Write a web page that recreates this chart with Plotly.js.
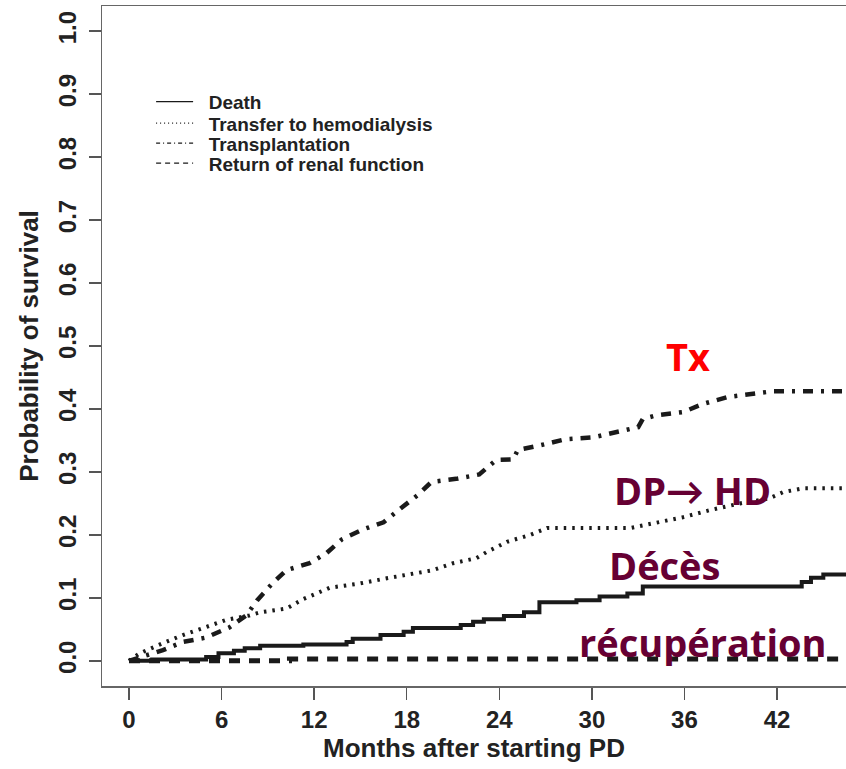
<!DOCTYPE html>
<html>
<head>
<meta charset="utf-8">
<script src="https://cdn.plot.ly/plotly-3.0.1.min.js"></script>
<style>html,body{margin:0;padding:0;background:#fff;}#chart{width:846px;height:769px;}</style>
</head>
<body>
<div id="chart"></div>
<script>
// Months after starting PD / cumulative probability
const deathMonths = [0, 1.5, 5.0, 5.8, 6.8, 7.5, 8.5, 11.3, 14.1, 14.5, 16.3, 17.8, 18.4, 21.5, 22.3, 23.0, 24.3, 25.6, 26.6, 29.0, 30.5, 32.3, 33.3, 43.6, 44.2, 45.0, 46.5];
const deathProb   = [0, 0.002, 0.006, 0.012, 0.016, 0.020, 0.024, 0.026, 0.030, 0.035, 0.041, 0.046, 0.052, 0.057, 0.062, 0.066, 0.071, 0.077, 0.093, 0.096, 0.102, 0.107, 0.118, 0.125, 0.132, 0.137, 0.137];

const hdMonths = [0, 0.7, 2.2, 3.5, 4.8, 6.3, 7.8, 8.5, 10.2, 11.3, 13.0, 15.0, 16.7, 18.4, 19.7, 21.0, 22.5, 23.2, 24.5, 26.0, 27.1, 32.5, 34.2, 35.9, 37.6, 39.6, 41.5, 42.4, 43.7, 46.5];
const hdProb   = [0, 0.012, 0.028, 0.041, 0.052, 0.065, 0.072, 0.077, 0.083, 0.098, 0.116, 0.123, 0.131, 0.139, 0.144, 0.155, 0.163, 0.173, 0.189, 0.200, 0.211, 0.211, 0.220, 0.228, 0.239, 0.250, 0.258, 0.268, 0.274, 0.274];

const txMonths = [0, 1.0, 2.2, 3.5, 5.0, 6.5, 7.6, 8.3, 9.3, 10.2, 11.7, 12.8, 13.8, 15.2, 16.5, 17.6, 18.7, 19.6, 21.2, 22.7, 23.8, 24.9, 25.2, 26.6, 28.3, 30.1, 31.5, 33.0, 33.3, 34.2, 35.9, 37.2, 38.8, 40.4, 41.7, 43.7, 46.5];
const txProb   = [0, 0.008, 0.017, 0.030, 0.037, 0.053, 0.072, 0.096, 0.123, 0.144, 0.155, 0.171, 0.193, 0.209, 0.220, 0.242, 0.263, 0.284, 0.289, 0.296, 0.319, 0.320, 0.335, 0.342, 0.352, 0.355, 0.363, 0.371, 0.384, 0.390, 0.395, 0.408, 0.419, 0.424, 0.428, 0.428, 0.428];

const renalMonths = [0, 10.4, 46.5];
const renalProb   = [0, 0.003, 0.003];

const xTicks = [0, 6, 12, 18, 24, 30, 36, 42];
const yTicks = [0, 0.1, 0.2, 0.3, 0.4, 0.5, 0.6, 0.7, 0.8, 0.9, 1.0];
const yTickText = ['0.0','0.1','0.2','0.3','0.4','0.5','0.6','0.7','0.8','0.9','1.0'];

const legendNames = ['Death', 'Transfer to hemodialysis', 'Transplantation', 'Return of renal function'];

const labelTexts = ['Tx', 'DP\u2192 HD', 'Décès', 'récupération'];
const labelX = [36.2, 36.5, 34.7, 37.2];
const labelY = [0.484, 0.272, 0.152, 0.030];
const labelColors = ['#ff0000', '#660033', '#660033', '#660033'];

const ink = '#1a1a1a';
const legendIds = ['legend', 'legend2', 'legend3', 'legend4'];
const legendDash = ['solid', '1px,3px', '4px,3px,1px,3px', '5px,4px'];
const legendRowY = [0.8593, 0.8275, 0.7981, 0.7687];

const traces = [
  {x: deathMonths, y: deathProb, mode: 'lines', line: {color: ink, width: 4, shape: 'hv'}, showlegend: false, hoverinfo: 'skip'},
  {x: hdMonths, y: hdProb, mode: 'lines', line: {color: ink, width: 4, dash: '2.5px,6px'}, showlegend: false, hoverinfo: 'skip'},
  {x: txMonths, y: txProb, mode: 'lines', line: {color: ink, width: 4.5, dash: '10px,8px,3px,8px'}, showlegend: false, hoverinfo: 'skip'},
  {x: renalMonths, y: renalProb, mode: 'lines', line: {color: ink, width: 5, shape: 'hv', dash: '11px,9px'}, showlegend: false, hoverinfo: 'skip'}
];
legendNames.forEach((n, i) => {
  traces.push({x: [null], y: [null], mode: 'lines', name: '\u00a0\u00a0' + n, legend: legendIds[i],
    showlegend: true, line: {color: ink, width: 1.2, dash: legendDash[i]}});
});

const annotations = labelTexts.map((t, i) => ({
  x: labelX[i], y: labelY[i], xref: 'x', yref: 'y', text: t, showarrow: false,
  xanchor: 'center', yanchor: 'middle',
  font: {family: '"Open Sans", Lato, sans-serif', size: 38, color: labelColors[i], weight: 'bold'}
}));

const layout = {
  width: 846, height: 769,
  margin: {l: 102, r: 0, t: 6, b: 83},
  paper_bgcolor: '#ffffff', plot_bgcolor: '#ffffff',
  font: {family: '"Liberation Sans", Arial, sans-serif', color: '#222222'},
  xaxis: {
    range: [-1.75, 46.47], tickvals: xTicks, ticktext: xTicks.map(String),
    showgrid: false, zeroline: false, showline: true, mirror: true, linecolor: '#666666', linewidth: 1.5,
    ticks: 'outside', ticklen: 12, tickwidth: 1.5, tickcolor: '#555555',
    tickfont: {size: 24, weight: 'bold', color: '#222222'},
    title: {text: 'Months after starting PD', font: {size: 26, weight: 'bold', color: '#222222'}, standoff: 6}
  },
  yaxis: {
    range: [-0.04, 1.04], tickvals: yTicks, ticktext: yTickText, tickangle: -90, ticklabelstandoff: 3,
    showgrid: false, zeroline: false, showline: true, mirror: false, linecolor: '#666666', linewidth: 1.5,
    ticks: 'outside', ticklen: 12, tickwidth: 1.5, tickcolor: '#555555',
    tickfont: {size: 24, weight: 'bold', color: '#222222'},
    title: {text: 'Probability of survival', font: {size: 26, weight: 'bold', color: '#222222'}, standoff: 8}
  },
  showlegend: true,
  annotations: annotations
};
legendIds.forEach((id, i) => {
  layout[id] = {
    x: 0.066, y: legendRowY[i], xanchor: 'left', yanchor: 'middle', bgcolor: 'rgba(0,0,0,0)', borderwidth: 0,
    font: {size: 19, weight: 'bold', color: '#222222'}, itemwidth: 37
  };
});

Plotly.newPlot('chart', traces, layout, {staticPlot: true, displayModeBar: false});
</script>
</body>
</html>
